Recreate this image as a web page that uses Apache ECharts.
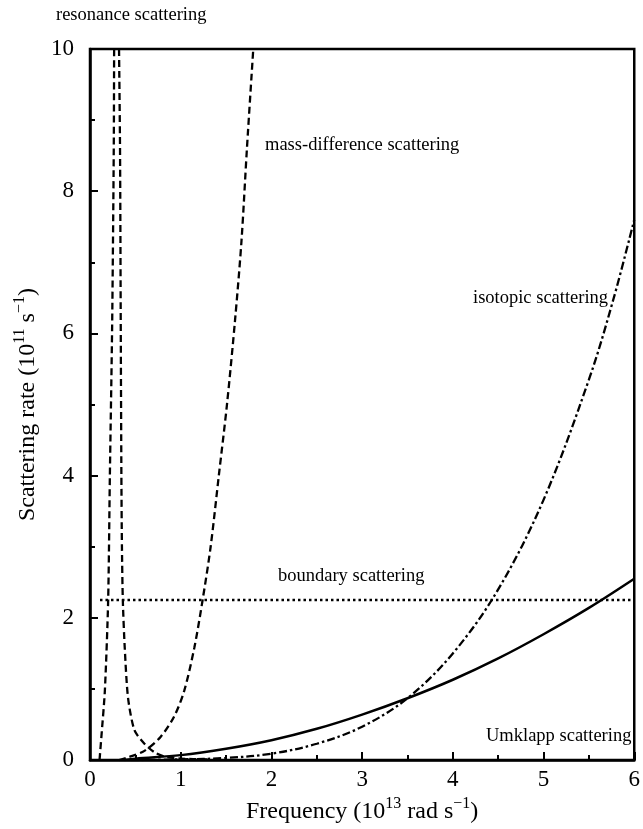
<!DOCTYPE html>
<html>
<head>
<meta charset="utf-8">
<script src="https://cdn.jsdelivr.net/npm/echarts@6/dist/echarts.min.js"></script>
<style>html,body{margin:0;padding:0;background:#fff}#c{width:643px;height:829px}</style>
</head>
<body>
<div id="c"></div>
<script>
// Data
const xTicks = [0, 1, 2, 3, 4, 5, 6];
const yTicks = [0, 2, 4, 6, 8, 10];

const umklappX = [0.38, 0.5, 1, 1.5, 2, 2.5, 3, 3.5, 4, 4.5, 5, 5.5, 6];
const umklappY = [0, 0.02, 0.07, 0.16, 0.28, 0.44, 0.64, 0.87, 1.13, 1.43, 1.77, 2.14, 2.55];

const isotopicX = [0.45, 1, 1.5, 2, 2.5, 3, 3.5, 4, 4.5, 5, 5.5, 5.77, 6];
const isotopicY = [0, 0.01, 0.03, 0.09, 0.23, 0.47, 0.87, 1.5, 2.4, 3.66, 5.35, 6.48, 7.6];

const massX = [0.32, 0.42, 0.6, 0.78, 0.93, 1.04, 1.15, 1.24, 1.33, 1.42, 1.51, 1.6, 1.67, 1.73, 1.8];
const massY = [0, 0.04, 0.13, 0.33, 0.62, 0.98, 1.58, 2.24, 3.0, 4.0, 5.0, 6.2, 7.3, 8.6, 10];

const resLowX = [0.105, 0.13, 0.164, 0.2, 0.219, 0.244, 0.262, 0.266];
const resLowY = [0, 0.4, 0.98, 2.24, 4.0, 6.1, 8.6, 10];

const resHighX = [0.32, 0.331, 0.339, 0.346, 0.352, 0.362, 0.383, 0.419, 0.49, 0.6, 0.71, 0.82, 1.0, 1.3];
const resHighY = [10, 8.6, 6.1, 4.0, 3.0, 2.24, 1.58, 0.88, 0.42, 0.23, 0.11, 0.05, 0.02, 0.01];

const boundaryX = [0.11, 6];
const boundaryY = [2.25, 2.25];

const labels = {
  resonance: 'resonance scattering',
  mass: 'mass-difference scattering',
  isotopic: 'isotopic scattering',
  boundary: 'boundary scattering',
  umklapp: 'Umklapp scattering'
};

const zip = (xs, ys) => xs.map((x, i) => [x, ys[i]]);
const FONT = '"Liberation Serif", "Times New Roman", serif';

const chart = echarts.init(document.getElementById('c'), null, {renderer: 'canvas'});

const richName = {
  base: {fontSize: 24, fontFamily: FONT, color: '#000', lineHeight: 28, verticalAlign: 'bottom'},
  sup: {fontSize: 16, fontFamily: FONT, color: '#000', lineHeight: 28, verticalAlign: 'top'}
};

function lineSeries(name, data, dash, smooth, width) {
  return {
    name: name,
    type: 'line',
    data: data,
    showSymbol: false,
    symbol: 'none',
    smooth: smooth,
    clip: true,
    lineStyle: {color: '#000', width: width || 2.3, type: dash},
    silent: true
  };
}

const option = {
  animation: false,
  backgroundColor: '#fff',
  grid: {left: 90, right: 4, top: 49, bottom: 66, show: true, borderColor: '#000', borderWidth: 2.5, backgroundColor: 'transparent'},
  xAxis: {
    type: 'value', min: 0, max: 6, interval: 1,
    name: '{base|Frequency (10}{sup|13}{base| rad s}{sup|−1}{base|)}',
    nameLocation: 'middle', nameGap: 34,
    nameTextStyle: {rich: richName},
    axisLine: {show: true, lineStyle: {color: '#000', width: 2.5}},
    axisTick: {show: true, inside: true, length: 8, lineStyle: {color: '#000', width: 2}},
    minorTick: {show: true, splitNumber: 2, length: 5, lineStyle: {color: '#000', width: 2}},
    splitLine: {show: false},
    minorSplitLine: {show: false},
    axisLabel: {color: '#000', fontSize: 23, fontFamily: FONT, margin: 8,
      formatter: v => xTicks.includes(v) ? String(v) : ''}
  },
  yAxis: {
    type: 'value', min: 0, max: 10, interval: 2,
    name: '{base|Scattering rate (10}{sup|11}{base| s}{sup|−1}{base|)}',
    nameLocation: 'middle', nameGap: 46, nameRotate: 90,
    nameTextStyle: {rich: richName},
    axisLine: {show: true, lineStyle: {color: '#000', width: 2.5}},
    axisTick: {show: true, inside: true, length: 8, lineStyle: {color: '#000', width: 2}},
    minorTick: {show: true, splitNumber: 2, length: 5, lineStyle: {color: '#000', width: 2}},
    splitLine: {show: false},
    minorSplitLine: {show: false},
    axisLabel: {color: '#000', fontSize: 23, fontFamily: FONT, margin: 16,
      formatter: v => yTicks.includes(v) ? String(v) : ''}
  },
  series: [
    lineSeries('Umklapp', zip(umklappX, umklappY), 'solid', 0.35, 2.5),
    lineSeries('isotopic', zip(isotopicX, isotopicY), [8, 3, 2.5, 3], 0.35),
    lineSeries('mass-difference', zip(massX, massY), [7, 4], 0.3),
    lineSeries('resonance low', zip(resLowX, resLowY), [7, 4], 0.25),
    lineSeries('resonance high', zip(resHighX, resHighY), [7, 4], 0.25),
    lineSeries('boundary', zip(boundaryX, boundaryY), [2.5, 3], false, 2.5)
  ],
  graphic: [
    {type: 'text', left: 56, top: 6, style: {text: labels.resonance, font: '18.5px ' + FONT, fill: '#000'}},
    {type: 'text', left: 265, top: 136, style: {text: labels.mass, font: '18.5px ' + FONT, fill: '#000'}},
    {type: 'text', left: 473, top: 289, style: {text: labels.isotopic, font: '18.5px ' + FONT, fill: '#000'}},
    {type: 'text', left: 278, top: 567, style: {text: labels.boundary, font: '18.5px ' + FONT, fill: '#000'}},
    {type: 'text', left: 486, top: 727, style: {text: labels.umklapp, font: '18.5px ' + FONT, fill: '#000'}}
  ]
};
chart.setOption(option);
</script>
</body>
</html>
